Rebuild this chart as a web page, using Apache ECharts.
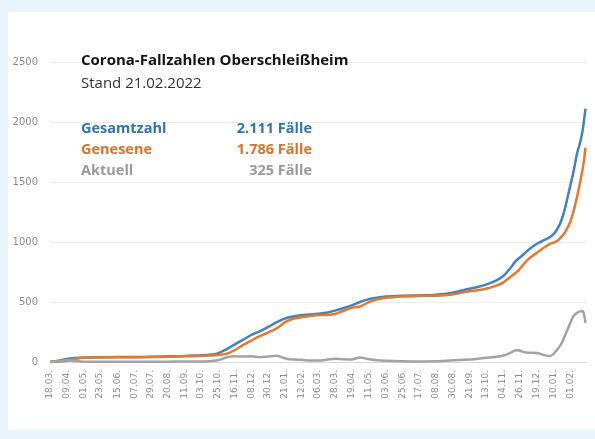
<!DOCTYPE html>
<html>
<head>
<meta charset="utf-8">
<script src="https://cdn.jsdelivr.net/npm/echarts@6/dist/echarts.min.js"></script>
<style>
  html, body { margin: 0; padding: 0; background: #e9f3fc; }
  #card { position: absolute; left: 8px; top: 12px; width: 587px; height: 418px; background: #fff; }
  #chart { position: absolute; left: 0; top: 0; width: 595px; height: 439px; }
</style>
</head>
<body>
<div id="card"></div>
<div id="chart"></div>
<script>
// tick labels on the x axis (every 22nd reporting day)
const tickDates = [
  '2020-03-18', '2020-04-09', '2020-05-01', '2020-05-23', '2020-06-15', '2020-07-07',
  '2020-07-29', '2020-08-20', '2020-09-11', '2020-10-03', '2020-10-25', '2020-11-16',
  '2020-12-08', '2020-12-30', '2021-01-21', '2021-02-12', '2021-03-06', '2021-03-28',
  '2021-04-19', '2021-05-11', '2021-06-03', '2021-06-25', '2021-07-17', '2021-08-08',
  '2021-08-30', '2021-09-21', '2021-10-13', '2021-11-04', '2021-11-26', '2021-12-19',
  '2022-01-10', '2022-02-01'
]

// sample dates
const dates = [
  '2020-03-18', '2020-03-29', '2020-04-09', '2020-04-20', '2020-05-01', '2020-05-23',
  '2020-06-15', '2020-07-07', '2020-07-29', '2020-08-20', '2020-09-11', '2020-10-03',
  '2020-10-14', '2020-10-25', '2020-11-05', '2020-11-16', '2020-11-27', '2020-12-08',
  '2020-12-19', '2020-12-30', '2021-01-10', '2021-01-21', '2021-02-01', '2021-02-12',
  '2021-02-23', '2021-03-06', '2021-03-17', '2021-03-28', '2021-04-08', '2021-04-19',
  '2021-04-30', '2021-05-11', '2021-05-22', '2021-06-03', '2021-06-25', '2021-07-17',
  '2021-08-08', '2021-08-30', '2021-09-21', '2021-10-02', '2021-10-13', '2021-10-24',
  '2021-11-04', '2021-11-15', '2021-11-21', '2021-11-26', '2021-12-02', '2021-12-08',
  '2021-12-19', '2021-12-30', '2022-01-05', '2022-01-10', '2022-01-15', '2022-01-20',
  '2022-01-25', '2022-02-01', '2022-02-05', '2022-02-10', '2022-02-14', '2022-02-17',
  '2022-02-19', '2022-02-21'
]

const gesamtzahl = [
  0, 10, 25, 33, 38, 40, 41, 42, 43, 47, 51, 56,
  60, 72, 105, 145, 185, 225, 255, 290, 330, 362, 380, 390,
  395, 402, 410, 428, 448, 472, 500, 522, 535, 545, 552, 555,
  560, 577, 610, 625, 645, 672, 712, 790, 840, 868, 900, 935,
  985, 1020, 1040, 1065, 1110, 1175, 1280, 1470, 1580, 1740, 1830, 1920,
  2010, 2111
]

const genesene = [
  0, 2, 10, 24, 35, 38, 39, 40, 41, 44, 47, 51,
  54, 58, 68, 98, 140, 178, 215, 245, 278, 330, 360, 372,
  383, 390, 392, 400, 425, 452, 462, 497, 520, 535, 546, 551,
  553, 563, 590, 598, 610, 630, 660, 712, 742, 772, 818, 858,
  910, 960, 985, 995, 1010, 1040, 1080, 1169, 1250, 1380, 1500, 1600,
  1680, 1786
]

const aktuell = [
  0, 8, 15, 9, 3, 2, 2, 2, 2, 3, 4, 5,
  6, 14, 37, 47, 45, 47, 40, 45, 52, 32, 20, 18,
  12, 12, 18, 28, 23, 20, 38, 25, 15, 10, 6, 4,
  7, 14, 20, 27, 35, 42, 52, 78, 98, 96, 82, 77,
  75, 55, 50, 68, 105, 150, 220, 325, 380, 410, 422, 425,
  400, 325
]

const seriesNames = ['Gesamtzahl', 'Genesene', 'Aktuell']
const totals = ['2.111', '1.786', '325']
const lineColors = ['#3f82c6', '#e8792c', '#a3a3a3']
const textColors = ['#2f74b5', '#d9712a', '#9a9a9a']

// date string -> UTC timestamp
function ts(s) {
  const p = s.split('-').map(Number)
  return Date.UTC(p[0], p[1] - 1, p[2])
}

function pairs(values) {
  return dates.map((d, i) => [ts(d), values[i]])
}

const seriesData = [gesamtzahl, genesene, aktuell]

const chart = echarts.init(document.getElementById('chart'))

chart.setOption({
  animation: false,
  backgroundColor: 'transparent',
  title: {
    text: 'Corona-Fallzahlen Oberschleißheim',
    subtext: 'Stand 21.02.2022',
    left: 76,
    top: 48,
    itemGap: 8,
    textStyle: { fontFamily: 'Open Sans', fontSize: 15, fontWeight: 'bold', color: '#151515' },
    subtextStyle: { fontFamily: 'Open Sans', fontSize: 15, color: '#333' }
  },
  legend: {
    orient: 'vertical',
    left: 71,
    top: 116,
    icon: 'none',
    itemWidth: 0,
    itemHeight: 10,
    itemGap: 6,
    selectedMode: false,
    data: seriesNames.map((n, i) => ({ name: n, textStyle: { color: textColors[i] } })),
    formatter: name => {
      const i = seriesNames.indexOf(name)
      return '{n|' + name + '}{v|' + totals[i] + ' Fälle}'
    },
    textStyle: {
      fontFamily: 'Open Sans',
      fontSize: 14.5,
      fontWeight: 'bold',
      rich: {
        n: { width: 146, lineHeight: 15, fontFamily: 'Open Sans', fontSize: 14.5, fontWeight: 'bold' },
        v: { width: 85, lineHeight: 15, align: 'right', fontFamily: 'Open Sans', fontSize: 14.5, fontWeight: 'bold' }
      }
    }
  },
  grid: { left: 50, right: 8, top: 62, bottom: 77 },
  xAxis: {
    type: 'value',
    min: ts('2020-03-18'),
    max: ts('2022-02-23'),
    axisLine: { lineStyle: { color: '#d9d9d9', width: 1 } },
    axisTick: { show: false },
    splitLine: { show: false },
    axisLabel: {
      rotate: 90,
      margin: 8,
      fontFamily: 'DejaVu Sans',
      fontSize: 9,
      color: '#8a8a8a',
      customValues: tickDates.map(ts),
      formatter: val => {
        const d = new Date(val)
        const p = n => (n < 10 ? '0' : '') + n
        return p(d.getUTCDate()) + '.' + p(d.getUTCMonth() + 1) + '.'
      }
    }
  },
  yAxis: {
    type: 'value',
    min: 0,
    max: 2500,
    interval: 500,
    axisLine: { show: false },
    axisTick: { show: false },
    splitLine: { lineStyle: { color: '#ededed', width: 1 } },
    axisLabel: {
      margin: 12,
      fontFamily: 'DejaVu Sans',
      fontSize: 10,
      color: '#8a8a8a',
      formatter: v => String(v)
    }
  },
  series: seriesNames.map((n, i) => ({
    name: n,
    type: 'line',
    data: pairs(seriesData[i]),
    showSymbol: false,
    smooth: 0.3,
    color: lineColors[i],
    lineStyle: { width: 2.5, color: lineColors[i] }
  }))
})
</script>
</body>
</html>
